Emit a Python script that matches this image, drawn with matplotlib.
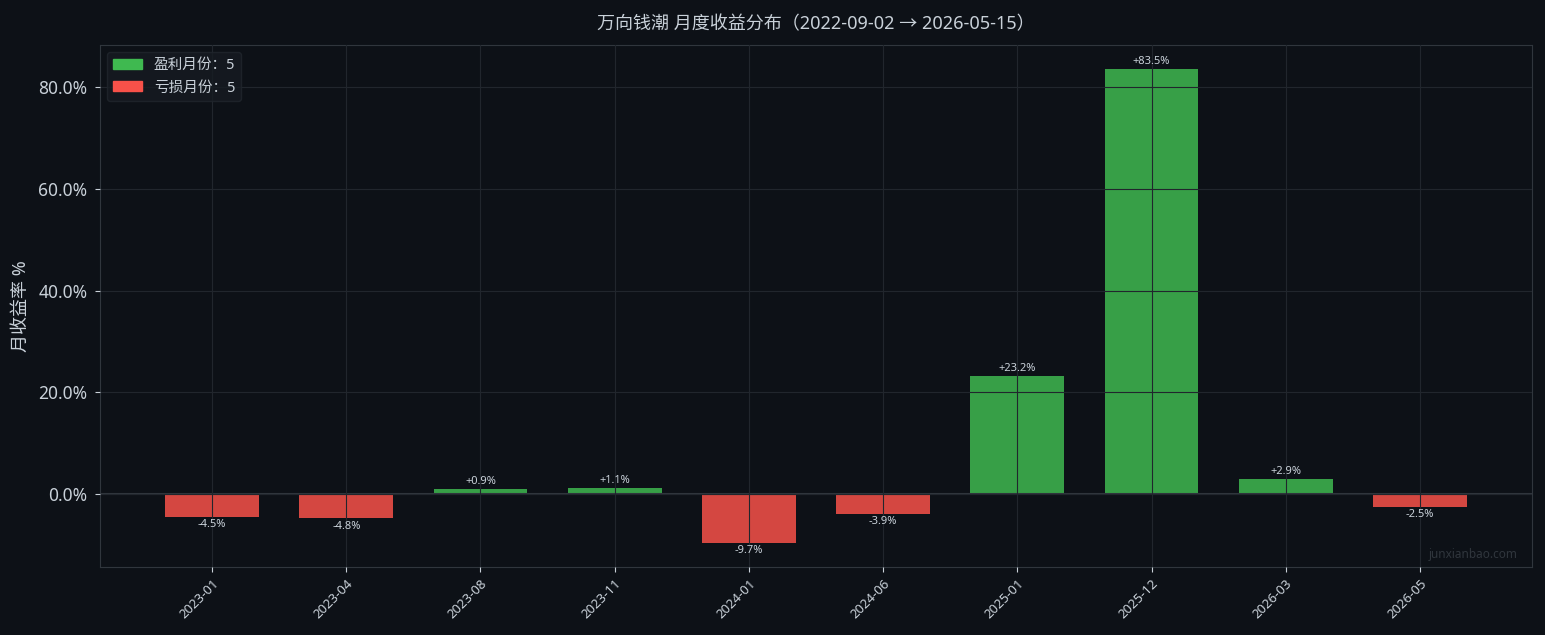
import matplotlib
matplotlib.use("Agg")
import matplotlib.pyplot as plt
from matplotlib.patches import Patch
import numpy as np

months = ["2023-01", "2023-04", "2023-08", "2023-11", "2024-01",
          "2024-06", "2025-01", "2025-12", "2026-03", "2026-05"]
returns = [-4.5, -4.8, 0.9, 1.1, -9.7, -3.9, 23.2, 83.5, 2.9, -2.5]
title = "万向钱潮 月度收益分布（2022-09-02 → 2026-05-15）"

plt.rcParams['font.family'] = ['Noto Sans', 'Noto Sans CJK SC', 'DejaVu Sans']

BG = "#0d1117"
GRID = "#21262d"
SPINE = "#30363d"
TXT = "#c9d1d9"
GREEN = "#3fb950"
RED = "#f85149"

fig = plt.figure(figsize=(15.45, 6.35), dpi=100, facecolor=BG)
ax = fig.add_axes([100/1545, 1-567/635, 1432/1545, 522/635])
ax.set_facecolor(BG)

x = np.arange(len(months))
colors = [GREEN if r >= 0 else RED for r in returns]
ax.bar(x, returns, width=0.7, color=colors, alpha=0.85, zorder=1)
ax.axhline(0, color=SPINE, lw=1.5, zorder=1.5)
ax.grid(True, color=GRID, lw=0.8, zorder=2)
ax.set_axisbelow(False)

for xi, r in zip(x, returns):
    if r >= 0:
        ax.annotate(f"+{r:.1f}%", (xi, r), xytext=(0, 1.5), textcoords="offset points",
                    ha="center", va="bottom", fontsize=8, color=TXT, zorder=3)
    else:
        ax.annotate(f"{r:.1f}%", (xi, r), xytext=(0, -1.5), textcoords="offset points",
                    ha="center", va="top", fontsize=8, color=TXT, zorder=3)

ax.set_xlim(-0.835, len(months) - 1 + 0.835)
ax.set_ylim(-14.35, 88.26)
ax.set_xticks(x)
ax.set_xticklabels(months, rotation=45, ha="right", rotation_mode="anchor", fontsize=9.5, color=TXT)
ax.set_yticks([0, 20, 40, 60, 80])
ax.set_yticklabels([f"{v:.1f}%" for v in [0, 20, 40, 60, 80]], fontsize=12.5, color=TXT)
ax.tick_params(colors=TXT, length=3.5)
ax.tick_params(axis="y", pad=5.5)
for s in ax.spines.values():
    s.set_color(SPINE)
ax.set_ylabel("月收益率 %", fontsize=13, color=TXT, labelpad=6)
ax.set_title(title, fontsize=13, color=TXT, pad=11)

n_pos = sum(1 for r in returns if r > 0)
n_neg = sum(1 for r in returns if r < 0)
handles = [Patch(color=GREEN, label=f"盈利月份：{n_pos}"),
           Patch(color=RED, label=f"亏损月份：{n_neg}")]
leg = ax.legend(handles=handles, loc="upper left", fontsize=10.5, facecolor="#161b22",
                edgecolor=GRID, labelcolor=TXT, framealpha=0.8)

ax.text(0.99, 0.012, "junxianbao.com", transform=ax.transAxes, ha="right", va="bottom",
        fontsize=8.5, color=SPINE)

fig.savefig("out.png", dpi=100, facecolor=BG)
